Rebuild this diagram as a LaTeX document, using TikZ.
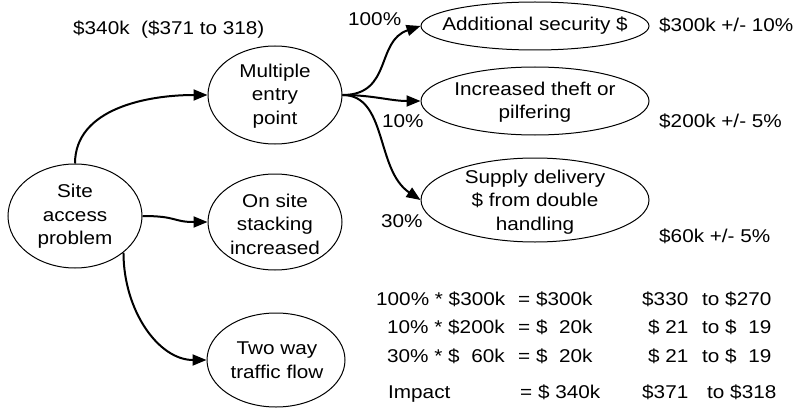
\documentclass[tikz,border=0pt]{standalone}
\usepackage{fontspec}
\setmainfont{Liberation Sans}[FakeStretch=1.12]
\usetikzlibrary{shapes.geometric,arrows.meta}
\begin{document}
\begin{tikzpicture}[x=1pt,y=-1pt,
  ell/.style={draw, ellipse, line width=1pt, inner sep=0pt},
  txt/.style={inner sep=0pt, align=center, font=\fontsize{18.5}{23.5}\selectfont},
  lbl/.style={inner sep=0pt, anchor=base west, font=\fontsize{18.5}{23.5}\selectfont},
  conn/.style={line width=2pt, -{Triangle[length=14pt,width=11pt]}}]
\useasboundingbox (0,0) rectangle (799,409);

% ellipses
\node[ell, minimum width=134pt, minimum height=104pt] (site) at (75,216) {};
\node[ell, minimum width=134pt, minimum height=98pt] (multiple) at (275,95) {};
\node[ell, minimum width=134pt, minimum height=96pt] (onsite) at (275,222) {};
\node[ell, minimum width=138pt, minimum height=94pt] (twoway) at (276,360) {};
\node[ell, minimum width=228pt, minimum height=48pt] (additional) at (535,26) {};
\node[ell, minimum width=228pt, minimum height=68pt] (increased) at (535,101) {};
\node[ell, minimum width=228pt, minimum height=84pt] (supply) at (535,200) {};

% ellipse texts
\node[txt] (siteT) at (75,216.5) {Site\\access\\problem};
\node[txt] (multipleT) at (275,96) {Multiple\\entry\\point};
\node[txt] (onsiteT) at (275,224) {On site\\stacking\\increased};
\node[txt] (twowayT) at (277,360) {Two way\\traffic flow};
\node[txt] (additionalT) at (535,26) {Additional security \$};
\node[txt] (increasedT) at (535,102) {Increased theft or\\pilfering};
\node[txt] (supplyT) at (535,202) {Supply delivery\\\$ from double\\handling};

% connectors
\draw[conn] (site.north) .. controls +(0,-55) and +(-60,0) .. (multiple.west);
\draw[conn] (site.east) .. controls +(35,0) and +(-35,0) .. (onsite.west);
\draw[conn] (site.-37) .. controls +(0,58) and +(-48,0) .. (twoway.west);
\draw[conn] (multiple.east) .. controls +(50,0) and +(-45,15) .. (additional.west);
\draw[conn] (multiple.east) .. controls +(30,0) and +(-30,0) .. (increased.west);
\draw[conn] (multiple.east) .. controls +(45,0) and +(-45,-30) .. (supply.west);

% labels
\node[lbl] (total) at (73,35) {\$340k\ \ (\$371 to 318)};
\node[lbl] (p100) at (348,26) {100\%};
\node[lbl] (p10) at (382,128) {10\%};
\node[lbl] (p30) at (381,227) {30\%};
\node[lbl] (v300) at (659,32) {\$300k +/- 10\%};
\node[lbl] (v200) at (659,128) {\$200k +/- 5\%};
\node[lbl] (v60) at (659,242) {\$60k +/- 5\%};

% table
\node[lbl] (r1a) at (376,305) {100\% * \$300k};
\node[lbl] (r1b) at (518,305) {= \$300k};
\node[lbl] (r1c) at (642,305) {\$330};
\node[lbl] (r1d) at (702,305) {to \$270};
\node[lbl] (r2a) at (387,333) {10\% * \$200k};
\node[lbl] (r2b) at (518,333) {= \$\ \ 20k};
\node[lbl] (r2c) at (648,333) {\$ 21};
\node[lbl] (r2d) at (702,333) {to \$\ \ 19};
\node[lbl] (r3a) at (387,362) {30\% * \$\ \ 60k};
\node[lbl] (r3b) at (518,362) {= \$\ \ 20k};
\node[lbl] (r3c) at (648,362) {\$ 21};
\node[lbl] (r3d) at (702,362) {to \$\ \ 19};
\node[lbl] (r4a) at (388,398) {Impact};
\node[lbl] (r4b) at (520,398) {= \$ 340k};
\node[lbl] (r4c) at (642,398) {\$371};
\node[lbl] (r4d) at (707,398) {to \$318};
\end{tikzpicture}
\end{document}
